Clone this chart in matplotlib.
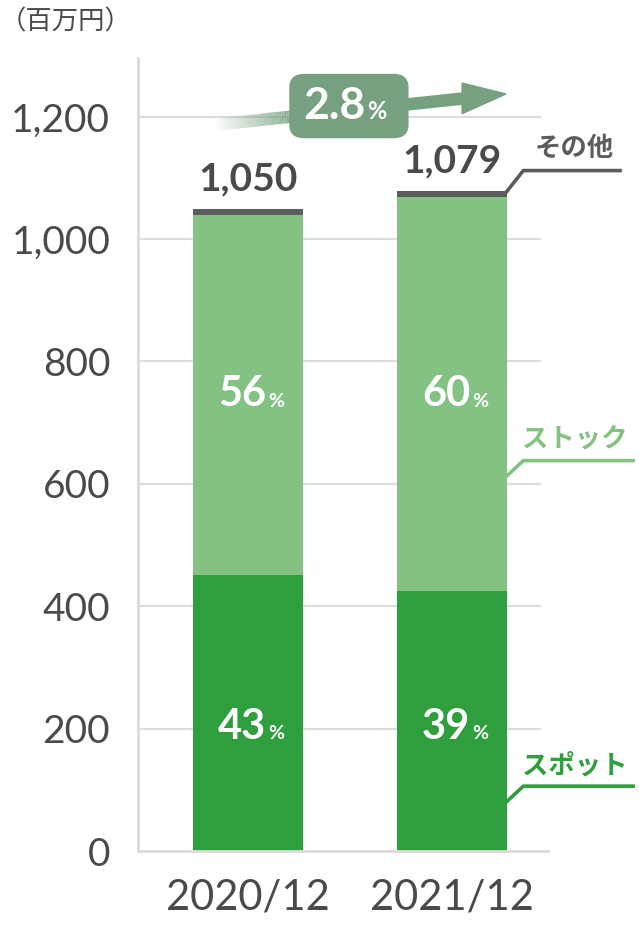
import matplotlib
matplotlib.use("Agg")
import matplotlib.pyplot as plt
import numpy as np
from matplotlib.patches import FancyBboxPatch, Polygon

plt.rcParams["font.family"] = ["Lato", "Noto Sans CJK JP", "DejaVu Sans"]

# ── data ───────────────────────────────────────────────
periods = ["2020/12", "2021/12"]
spot = [451, 425]
stock = [589, 644]
other = [10, 10]
totals = [1050, 1079]
spot_pct = [43, 39]
stock_pct = [56, 60]
growth_pct = 2.8
yticks = [0, 200, 400, 600, 800, 1000, 1200]

SPOT_C = "#2f9e3c"
STOCK_C = "#84c283"
OTHER_C = "#5c5c5c"
TEXT_C = "#4a4a4a"
ARROW_C = "#76a07f"
GRID_C = "#dcdcdc"

W, H = 639, 927
fig = plt.figure(figsize=(W / 100, H / 100), dpi=100)
ax = fig.add_axes([138 / W, 1 - 851 / H, 410 / W, (851 - 58) / H])

x = np.arange(len(periods))
bw = 0.54
ax.set_xlim(-0.539, 1.471)
ax.set_ylim(0, 1296)

for t in yticks[1:]:
    ax.axhline(t, xmin=0, xmax=0.98, color=GRID_C, lw=1.6, zorder=0)

ax.bar(x, spot, bw, color=SPOT_C, zorder=2)
ax.bar(x, stock, bw, bottom=spot, color=STOCK_C, zorder=2)
ax.bar(x, other, bw, bottom=np.add(spot, stock), color=OTHER_C, zorder=2)

for sp in ["top", "right"]:
    ax.spines[sp].set_visible(False)
for sp in ["left", "bottom"]:
    ax.spines[sp].set_color(GRID_C)
    ax.spines[sp].set_linewidth(2)

ax.set_yticks(yticks)
ax.set_yticklabels([f"{t:,}" for t in yticks], fontsize=28, color=TEXT_C)
ax.set_xticks(x)
ax.set_xticklabels(periods, fontsize=30, color=TEXT_C)
ax.tick_params(length=0)
ax.tick_params(axis="y", pad=20)
ax.tick_params(axis="x", pad=20)

# segment share labels, kept on one row per segment type
def pct_label(xi, y, val):
    ax.text(xi + 0.09, y, f"{val}", ha="right", va="center", fontsize=30,
            fontweight="bold", color="white", zorder=3)
    ax.text(xi + 0.10, y - 11, "%", ha="left", va="center", fontsize=14,
            fontweight="bold", color="white", zorder=3)

stock_y = np.mean(np.add(spot, np.divide(stock, 2)))
spot_y = np.mean(spot) / 2 - 16
for i in range(len(periods)):
    pct_label(x[i], stock_y, stock_pct[i])
    pct_label(x[i], spot_y, spot_pct[i])
    ax.text(x[i], totals[i] + 20, f"{totals[i]:,}", ha="center", va="bottom",
            fontsize=28, fontweight="bold", color=TEXT_C)

# series leaders on the right of the last bar
xr = x[-1] + bw / 2
leaders = [
    ("その他", totals[-1] - 5, 38, OTHER_C, 1.833, 1150),
    ("ストック", 610, 28, STOCK_C, 1.897, 675),
    ("スポット", 78, 28, SPOT_C, 1.897, 141),
]
for name, y0, dy, col, xend, ty in leaders:
    ax.plot([xr - 0.01, xr + 0.08, xend], [y0, y0 + dy, y0 + dy], color=col,
            lw=2.6, clip_on=False, solid_capstyle="butt", zorder=4)
    ax.text(1.60, ty, name, ha="center", va="center", fontsize=19,
            fontweight="bold", color=col, clip_on=False)

# growth arrow with faded tail
x0, x1 = -0.16, 1.06
y0, y1 = 1187, 1230
n = 40
xs = np.linspace(x0, x0 + 0.45, n + 1)
for k in range(n):
    ya = y0 + (y1 - y0) * (xs[k] - x0) / (x1 - x0)
    yb = y0 + (y1 - y0) * (xs[k + 1] - x0) / (x1 - x0)
    ax.plot(xs[k:k + 2], [ya, yb], color=ARROW_C, lw=9, alpha=(k + 1) / n,
            solid_capstyle="butt", clip_on=False, zorder=5)
ax.plot([x0 + 0.45, x1], [y0 + (y1 - y0) * 0.45 / (x1 - x0), y1], color=ARROW_C,
        lw=9, solid_capstyle="butt", clip_on=False, zorder=5)
slope = (y1 - y0) / (x1 - x0)
head = Polygon([[x1 - 0.01, y1 + 25], [x1 + 0.205, y1 + 0.205 * slope],
                [x1 - 0.01, y1 - 25]], closed=True, color=ARROW_C,
               clip_on=False, zorder=5)
ax.add_patch(head)

box = FancyBboxPatch((0.206, 1166), 0.578, 103,
                     boxstyle="round,pad=0,rounding_size=0.07",
                     mutation_aspect=1 / 0.0033, color=ARROW_C,
                     clip_on=False, zorder=6)
ax.add_patch(box)
ax.text(0.575, 1218, f"{growth_pct}", ha="right", va="center", fontsize=32,
        fontweight="bold", color="white", zorder=7)
ax.text(0.585, 1208, "%", ha="left", va="center", fontsize=17,
        fontweight="bold", color="white", zorder=7)

fig.text(0 / W, 1 - 22 / H, "（百万円）", ha="left", va="center", fontsize=19,
         color=TEXT_C)

fig.savefig("out.png", dpi=100)
